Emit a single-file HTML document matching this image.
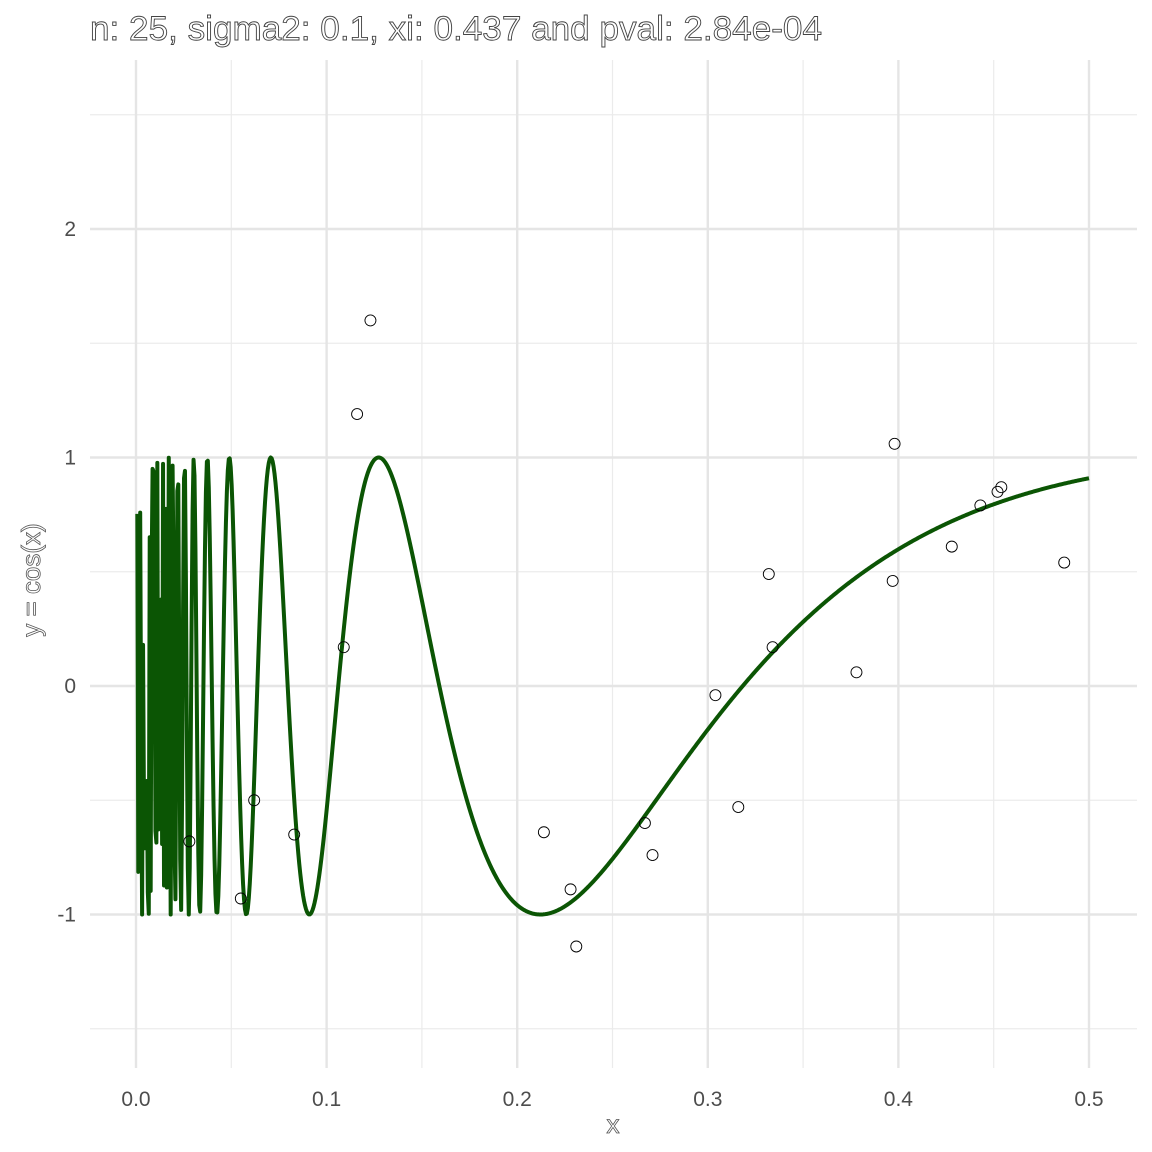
<!DOCTYPE html>
<html><head><meta charset="utf-8"><style>
body{margin:0;background:#fff}
svg{display:block;font-family:"Liberation Sans",sans-serif}
</style></head><body>
<svg id="chart" width="1152" height="1152" viewBox="0 0 1152 1152">
<rect width="1152" height="1152" fill="#fff"/>
<g id="grid"></g>
<g id="curve"></g>
<g id="pts"></g>
<g id="axes"></g>
<text x="90" y="40" font-size="34" textLength="732" lengthAdjust="spacingAndGlyphs" fill="#fff" stroke="#444" stroke-width="0.9">n: 25, sigma2: 0.1, xi: 0.437 and pval: 2.84e-04</text>
<text x="613" y="1133" font-size="26" fill="#fff" stroke="#555" stroke-width="0.8" text-anchor="middle">x</text>
<text transform="translate(40,580) rotate(-90)" font-size="26" fill="#fff" stroke="#555" stroke-width="0.8" text-anchor="middle">y = cos(x)</text>
</svg>
<script>
const xTicks=[0,0.1,0.2,0.3,0.4,0.5];
const xTickLabels=["0.0","0.1","0.2","0.3","0.4","0.5"];
const yTicks=[-1,0,1,2];
const yTickLabels=["-1","0","1","2"];
const ptX=[0.028,0.055,0.062,0.083,0.109,0.116,0.123,0.214,0.228,0.231,0.267,0.271,0.304,0.316,0.332,0.334,0.378,0.397,0.398,0.428,0.443,0.452,0.454,0.487];
const ptY=[-0.68,-0.93,-0.50,-0.65,0.17,1.19,1.60,-0.64,-0.89,-1.14,-0.60,-0.74,-0.04,-0.53,0.49,0.17,0.06,0.46,1.06,0.61,0.79,0.85,0.87,0.54];
const curveN=1000, curveMin=0.0007, curveMax=0.5;
const X=v=>136+v*1906, Y=v=>686-v*228.5;
const L=90,R=1137,T=60,B=1068;
const NS="http://www.w3.org/2000/svg";
function mk(tag,at,parent){const e=document.createElementNS(NS,tag);for(const k in at)e.setAttribute(k,at[k]);parent.appendChild(e);return e;}
const grid=document.getElementById('grid'),axes=document.getElementById('axes');
for(let i=0;i<xTicks.length-1;i++){const m=(xTicks[i]+xTicks[i+1])/2;
 const l=mk('line',{x1:X(m),x2:X(m),y1:T,y2:B,stroke:'#ebebeb','stroke-width':1.2},grid);
 
 }
[-1.5,-0.5,0.5,1.5,2.5].forEach(m=>{const l=mk('line',{x1:L,x2:R,y1:Y(m),y2:Y(m),stroke:'#ebebeb','stroke-width':1.2},grid);
 
 });
xTicks.forEach((v,i)=>{const l=mk('line',{x1:X(v),x2:X(v),y1:T,y2:B,stroke:'#e5e5e5','stroke-width':2.4},grid);
 
 
 const t=mk('text',{x:X(v),y:1106,'font-size':21,fill:'#4d4d4d','text-anchor':'middle'},axes);t.textContent=xTickLabels[i];
 
 });
yTicks.forEach((v,i)=>{const l=mk('line',{x1:L,x2:R,y1:Y(v),y2:Y(v),stroke:'#e5e5e5','stroke-width':2.4},grid);
 
 
 const t=mk('text',{x:76,y:Y(v)+7,'font-size':21,fill:'#4d4d4d','text-anchor':'end'},axes);t.textContent=yTickLabels[i];
 
 });
let d='';
for(let i=0;i<curveN;i++){const x=curveMin+(curveMax-curveMin)*i/(curveN-1);const y=Math.sin(1/x);d+=(i?'L':'M')+X(x).toFixed(2)+','+Y(y).toFixed(2);}
const p=mk('path',{d:d,fill:'none',stroke:'#0b5504','stroke-width':4,'stroke-linejoin':'round'},document.getElementById('curve'));


ptX.forEach((x,i)=>{const c=mk('circle',{cx:X(x),cy:Y(ptY[i]),r:5.5,fill:'none',stroke:'#000','stroke-width':0.9},document.getElementById('pts'));
 
 });
</script>
</body></html>
